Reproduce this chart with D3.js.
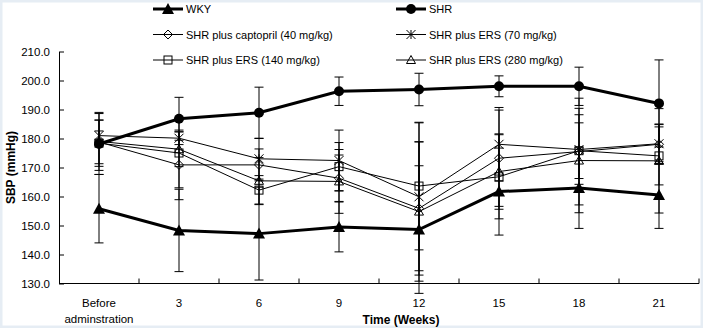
<!DOCTYPE html>
<html>
<head>
<meta charset="utf-8">
<script src="https://cdn.jsdelivr.net/npm/d3@7"></script>
<style>
  html, body { margin: 0; padding: 0; background: #ffffff; }
  svg { display: block; font-family: "Liberation Sans", Arial, sans-serif; }
</style>
</head>
<body>
<div id="main"></div>
<script>
const ctx = {
    w: 703,
    h: 328,
    left: 59,
    right: 699,
    top: 51.5,
    bottom: 283.5,
    CAP: 4.5,
};

// time points (weeks)
const categories = ["Before adminstration", "3", "6", "9", "12", "15", "18", "21"];
const yTicks = [130, 140, 150, 160, 170, 180, 190, 200, 210];

// mean SBP and SD per group
const wky       = [155.8, 148.3, 147.2, 149.5, 148.6, 161.7, 162.9, 160.5];
const wkyErr    = [11.8, 14.2, 16.0, 8.6, 22.0, 15.0, 13.9, 11.5];
const shr       = [178.1, 186.8, 188.9, 196.3, 196.9, 198.0, 198.0, 192.1];
const shrErr    = [10.5, 7.4, 8.8, 4.9, 5.6, 3.6, 6.6, 15.0];
const capto     = [178.8, 170.9, 170.9, 166.3, 155.9, 173.2, 175.5, 178.0];
const captoErr  = [7.5, 12.0, 5.5, 8.0, 23.0, 16.6, 18.4, 6.8];
const ers70     = [181.0, 180.1, 173.0, 172.4, 159.9, 178.0, 176.2, 178.2];
const ers70Err  = [1.6, 2.2, 7.0, 10.5, 25.5, 12.7, 12.0, 6.8];
const ers140    = [178.4, 175.0, 162.2, 170.3, 163.6, 166.8, 175.8, 174.0];
const ers140Err = [8.0, 12.0, 5.0, 8.3, 22.0, 14.5, 9.6, 10.0];
const ers280    = [179.0, 176.3, 165.4, 165.2, 154.8, 168.6, 172.4, 172.3];
const ers280Err = [10.0, 6.0, 8.0, 11.0, 24.0, 13.0, 18.0, 18.0];

const series = [
    {name: "WKY", values: wky, err: wkyErr, marker: "triangleFill", width: 3},
    {name: "SHR", values: shr, err: shrErr, marker: "circle", width: 3},
    {name: "SHR plus captopril (40 mg/kg)", values: capto, err: captoErr, marker: "diamond", width: 1},
    {name: "SHR plus ERS (70 mg/kg)", values: ers70, err: ers70Err, marker: "star", width: 1},
    {name: "SHR plus ERS (140 mg/kg)", values: ers140, err: ers140Err, marker: "square", width: 1},
    {name: "SHR plus ERS (280 mg/kg)", values: ers280, err: ers280Err, marker: "triangle", width: 1},
];

const x = d3.scaleBand().domain(categories).range([ctx.left, ctx.right]).padding(0);
const y = d3.scaleLinear().domain([130, 210]).range([ctx.bottom, ctx.top]);
const cx = (c) => x(c) + x.bandwidth() / 2;

function drawMarker(g, type){
    if (type === "circle"){
        g.append("circle").attr("r", 5).attr("fill", "black");
    } else if (type === "triangleFill"){
        g.append("path").attr("d", "M0,-6L6,5L-6,5Z").attr("fill", "black");
    } else if (type === "triangle"){
        g.append("path").attr("d", "M0,-4.5L4.5,3.5L-4.5,3.5Z")
         .attr("fill", "none").attr("stroke", "black").attr("stroke-width", 1);
    } else if (type === "square"){
        g.append("rect").attr("x", -4).attr("y", -4).attr("width", 8).attr("height", 8)
         .attr("fill", "none").attr("stroke", "black").attr("stroke-width", 1);
    } else if (type === "diamond"){
        g.append("path").attr("d", "M0,-4.5L4.5,0L0,4.5L-4.5,0Z")
         .attr("fill", "none").attr("stroke", "black").attr("stroke-width", 1);
    } else if (type === "star"){
        g.append("path").attr("d", "M-4.5,-4.5L4.5,4.5M-4.5,4.5L4.5,-4.5M0,-4.5L0,4.5")
         .attr("fill", "none").attr("stroke", "black").attr("stroke-width", 1);
    }
}

function createViz(){
    const svg = d3.select("#main").append("svg")
        .attr("width", ctx.w).attr("height", ctx.h);

    // light frame round the picture
    svg.append("rect").attr("x", 1).attr("y", 1)
        .attr("width", ctx.w - 2).attr("height", ctx.h - 2)
        .attr("fill", "white").attr("stroke", "#e6edf4").attr("stroke-width", 3);

    // y axis, ticks pointing inward
    const yAxis = d3.axisLeft(y).tickValues(yTicks).tickFormat(d3.format(".1f"))
        .tickSizeInner(-5).tickSizeOuter(0).tickPadding(9);
    const gy = svg.append("g").attr("transform", `translate(${ctx.left},0)`).call(yAxis);
    gy.selectAll("text").attr("font-size", 11.5).attr("fill", "black")
        .attr("font-family", "Liberation Sans, Arial, sans-serif");
    gy.selectAll("line, path").attr("stroke", "black");

    // x axis line with ticks on category boundaries
    const gx = svg.append("g").attr("transform", `translate(0,${ctx.bottom})`);
    gx.append("line").attr("x1", ctx.left).attr("x2", ctx.right)
        .attr("stroke", "black");
    const bounds = categories.slice(1).map(c => x(c)).concat([ctx.right]);
    gx.selectAll("line.tick").data(bounds).enter().append("line")
        .attr("class", "tick")
        .attr("x1", d => d).attr("x2", d => d)
        .attr("y1", 0).attr("y2", -5).attr("stroke", "black");

    const labels = gx.selectAll("text").data(categories).enter().append("text")
        .attr("text-anchor", "middle").attr("font-size", 11.5)
        .attr("x", d => cx(d)).attr("y", 23.5);
    labels.each(function(d){
        const words = d.split(" ");
        const t = d3.select(this);
        words.forEach((wd, i) => {
            t.append("tspan").attr("x", cx(d)).attr("dy", i === 0 ? 0 : 16).text(wd);
        });
    });

    // axis titles
    svg.append("text").attr("x", 401).attr("y", 323.5)
        .attr("text-anchor", "middle").attr("font-size", 12).attr("font-weight", "bold")
        .text("Time (Weeks)");
    svg.append("text")
        .attr("transform", `translate(15,${(ctx.top + ctx.bottom) / 2}) rotate(-90)`)
        .attr("text-anchor", "middle").attr("font-size", 12).attr("font-weight", "bold")
        .text("SBP (mmHg)");

    const plot = svg.append("g");

    // error bars
    series.forEach(function(s){
        const eb = plot.append("g");
        s.values.forEach(function(v, i){
            const px = cx(categories[i]);
            const hi = y(v + s.err[i]);
            const lo = y(v - s.err[i]);
            eb.append("line").attr("x1", px).attr("x2", px).attr("y1", hi).attr("y2", lo)
              .attr("stroke", "black").attr("stroke-width", 1);
            [hi, lo].forEach(function(py){
                eb.append("line").attr("x1", px - ctx.CAP).attr("x2", px + ctx.CAP)
                  .attr("y1", py).attr("y2", py)
                  .attr("stroke", "black").attr("stroke-width", 1);
            });
        });
    });

    // series lines, thin ones first
    const line = d3.line().x((d, i) => cx(categories[i])).y(d => y(d));
    series.slice().reverse().forEach(function(s){
        plot.append("path").datum(s.values).attr("d", line)
            .attr("fill", "none").attr("stroke", "black").attr("stroke-width", s.width);
    });

    // markers
    series.slice().reverse().forEach(function(s){
        s.values.forEach(function(v, i){
            const g = plot.append("g")
                .attr("transform", `translate(${cx(categories[i])},${y(v)})`);
            drawMarker(g, s.marker);
        });
    });

    // legend, two columns
    const legX = [153, 396];
    const legY = [9, 34.5, 60];
    series.forEach(function(s, i){
        const lx = legX[i % 2];
        const ly = legY[Math.floor(i / 2)];
        const g = svg.append("g").attr("transform", `translate(${lx},${ly})`);
        g.append("line").attr("x1", 0).attr("x2", 30).attr("y1", 0).attr("y2", 0)
            .attr("stroke", "black").attr("stroke-width", s.width);
        drawMarker(g.append("g").attr("transform", "translate(15,0)"), s.marker);
        g.append("text").attr("x", 33).attr("y", 4).attr("font-size", 11)
            .text(s.name);
    });
}

createViz();
</script>
</body>
</html>
